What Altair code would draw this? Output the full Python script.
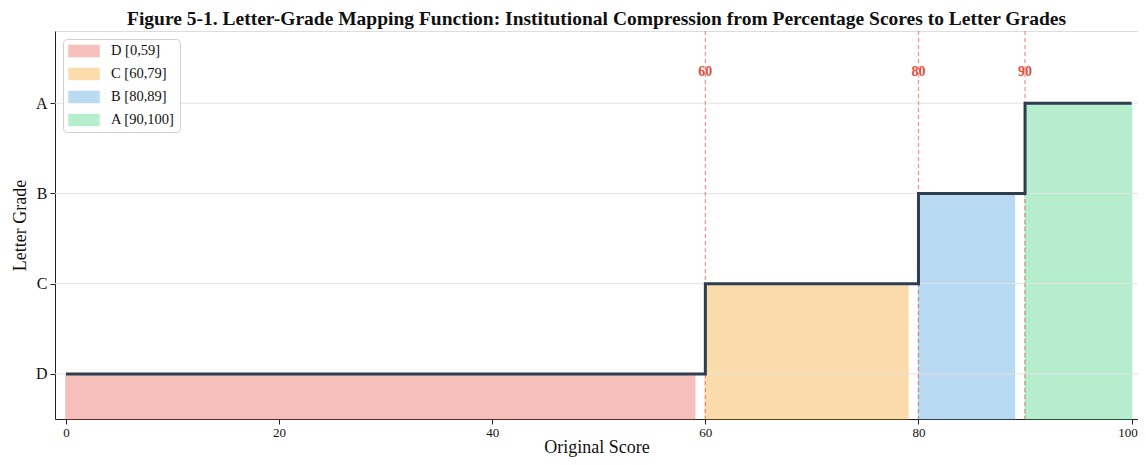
import altair as alt
import pandas as pd

grades = ["D", "C", "B", "A"]
levels = [0, 1, 2, 3]
band_start = [0, 60, 80, 90]
band_end = [59, 79, 89, 100]
legend_labels = ["D [0,59]", "C [60,79]", "B [80,89]", "A [90,100]"]
colors = ["#e74c3c", "#f39c12", "#3498db", "#2ecc71"]

step_x = [0, 60, 80, 90, 100]
step_y = [0, 1, 2, 3, 3]
thresholds = [60, 80, 90]
x_ticks = [0, 20, 40, 60, 80, 100]

FONT = "Liberation Serif"
XD = [-1.03, 100.6]
YD = [-0.5, 3.8]

bands = pd.DataFrame({"label": legend_labels, "start": band_start,
                      "end": band_end, "level": levels, "base": [-0.5] * 4})
steps = pd.DataFrame({"x": step_x, "y": step_y})
thr = pd.DataFrame({"t": thresholds, "lab": [str(t) for t in thresholds], "ly": [3.35] * 3})
grid = pd.DataFrame({"g": levels})

xs = alt.Scale(domain=XD, nice=False, zero=False)
ys = alt.Scale(domain=YD, nice=False, zero=False)

label_expr = "datum.value == 0 ? 'D' : datum.value == 1 ? 'C' : datum.value == 2 ? 'B' : 'A'"

xaxis = alt.Axis(title="Original Score", values=x_ticks, grid=False, tickSize=5,
                 labelFontSize=13, titleFontSize=18, labelPadding=2,
                 labelOffset={"condition": {"test": "datum.value == 100", "value": -4}, "value": 0},
                 titleY=33, titleBaseline="alphabetic",
                 labelFont=FONT, titleFont=FONT, titleFontWeight="normal",
                 domainColor="#222", tickColor="#222", labelColor="#111", titleColor="#111")
yaxis = alt.Axis(title="Letter Grade", values=levels, labelExpr=label_expr, grid=False,
                 tickSize=5, labelFontSize=16,
                 titleFontSize=18, labelPadding=3, titlePadding=6, labelFont=FONT,
                 titleFont=FONT, titleFontWeight="normal", domainColor="#222",
                 tickColor="#222", labelColor="#111", titleColor="#111")

rect_path = "M-1,-0.36H1V0.36H-1Z"

fills = alt.Chart(bands).mark_rect(opacity=0.35, strokeWidth=1.5).encode(
    x=alt.X("start:Q", scale=xs, axis=xaxis),
    x2="end:Q",
    y=alt.Y("level:Q", scale=ys, axis=yaxis),
    y2="base:Q",
    color=alt.Color("label:N", scale=alt.Scale(domain=legend_labels, range=colors),
                    legend=alt.Legend(title=None, orient="top-left", offset=8,
                                      symbolType=rect_path, symbolSize=900,
                                      symbolOpacity=0.35, symbolStrokeWidth=1.5,
                                      labelFont=FONT, labelFontSize=14.5, labelColor="#111",
                                      labelOffset=11, rowPadding=8, clipHeight=14,
                                      padding=5,
                                      strokeColor="#d0d0d0", fillColor="white",
                                      cornerRadius=4)),
    stroke=alt.Stroke("label:N", scale=alt.Scale(domain=legend_labels, range=colors),
                      legend=None),
)

gridlines = alt.Chart(grid).mark_rule(color="#e3e3e3", strokeWidth=1).encode(
    y=alt.Y("g:Q", scale=ys)
)

rules = alt.Chart(thr).mark_rule(color="#e74c3c", opacity=0.6, strokeDash=[4, 3],
                                 strokeWidth=1.2).encode(
    x=alt.X("t:Q", scale=xs)
)

texts = alt.Chart(thr).mark_text(color="#e74c3c", font=FONT, fontSize=14,
                                 fontWeight="bold", baseline="middle").encode(
    x=alt.X("t:Q", scale=xs),
    y=alt.Y("ly:Q", scale=ys),
    text="lab:N",
)

line = alt.Chart(steps).mark_line(interpolate="step-after", color="#2c3e50",
                                  strokeWidth=3).encode(
    x=alt.X("x:Q", scale=xs),
    y=alt.Y("y:Q", scale=ys),
)

chart = alt.layer(fills, gridlines, rules, line, texts).properties(
    width=1083, height=388,
    title=alt.TitleParams(
        "Figure 5-1. Letter-Grade Mapping Function: Institutional Compression from Percentage Scores to Letter Grades",
        font=FONT, fontSize=19.5, fontWeight="bold", color="#111", anchor="middle", offset=1),
    autosize=alt.AutoSizeParams(type="none"),
    padding={"left": 47, "top": 23, "right": 0, "bottom": 38},
).configure_view(stroke="#222", strokeWidth=1).configure(background="white")

chart.save("out.html", embed_options={"renderer": "svg", "actions": False})
